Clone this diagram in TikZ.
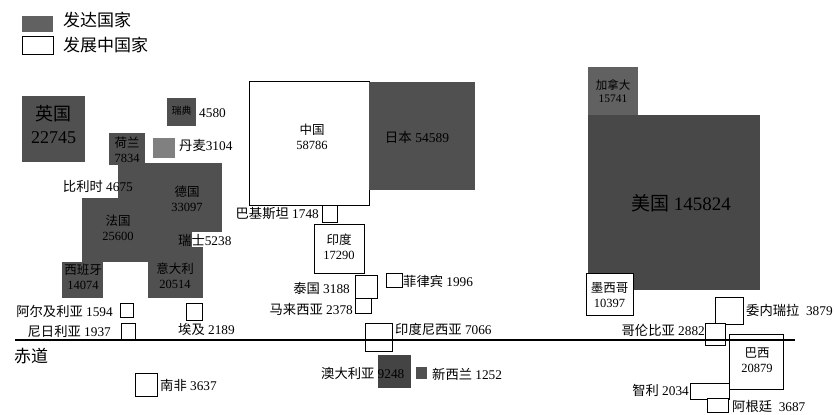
\documentclass[tikz,border=0pt]{standalone}
\usepackage{fontspec}
\setmainfont{Liberation Serif}
\newfontfamily\cjk{Noto Sans CJK SC}
\newcommand\zh[1]{{\cjk #1}}
\usetikzlibrary{positioning}
\definecolor{devgray}{HTML}{505050}
\definecolor{devlight}{HTML}{808080}
\begin{document}
\begin{tikzpicture}[x=1pt,y=-1pt,
  dev/.style={fill=devgray, draw=none, inner sep=0pt, outer sep=0pt, align=center},
  dvg/.style={fill=white, draw=black, line width=0.9pt, inner sep=0pt, outer sep=0pt, align=center},
  sz/.style 2 args={minimum width=#1pt, minimum height=#2pt},
  lbl/.style={inner sep=0pt, font=\fontsize{13.3}{15}\selectfont},
  intxt/.style={inner sep=0pt, align=center, font=\fontsize{12.5}{15}\selectfont},
  legtxt/.style={inner sep=0pt, anchor=west, font=\fontsize{17}{17}\selectfont\cjk},
  eqline/.style={line width=2.4pt, black}
]
\useasboundingbox (0,0) rectangle (836,415);

% legend
\node[dev, fill=devgray!90!white, sz={31}{16}] (legD) at (37.5,24) {};
\node[dvg, sz={31}{18}] (legW) at (37.5,45.5) {};
\node[legtxt] (legDt) at (63,20) {发达国家};
\node[legtxt] (legWt) at (63,45) {发展中国家};

% Europe
\node[dev, sz={63}{66}] (uk) at (53.5,129) {};
\node[intxt, font=\fontsize{18}{23}\selectfont] (ukT) at (53.5,125) {\zh{英国}\\22745};
\node[dev, sz={29}{28}] (se) at (181.5,112) {};
\node[intxt, font=\fontsize{10}{10}\selectfont] (seT) at (181.5,111) {\zh{瑞典}};
\node[lbl, anchor=west] (seL) at (199,113) {4580};
\node[dev, sz={36}{32}] (nl) at (127,149) {};
\node[dev, fill=devlight, sz={22}{20}] (dk) at (164,148) {};
\node[lbl, anchor=west] (dkL) at (179,145) {\zh{丹麦}3104};
\node[dev, sz={104}{69}] (de) at (170,197.5) {};
\node[dev, sz={73}{64}] (fr) at (118.5,230) {};
\node[dev, sz={42}{16}] (ch) at (171,240) {};
\node[dev, sz={55}{51}] (it) at (175.5,272.5) {};
\node[dev, sz={41}{36}] (es) at (82.5,280) {};
\node[intxt] (nlT) at (127,150) {\zh{荷兰}\\7834};
\node[intxt] (deT) at (187,199) {\zh{德国}\\33097};
\node[intxt] (frT) at (118,228) {\zh{法国}\\25600};
\node[intxt] (itT) at (175,276) {\zh{意大利}\\20514};
\node[intxt] (esT) at (83,277) {\zh{西班牙}\\14074};
\node[lbl, anchor=east] (beL) at (133,186) {\zh{比利时} 4675};
\node[lbl, anchor=west] (chL) at (178,240) {\zh{瑞士}5238};

% Africa
\node[dvg, sz={13}{14}] (dz) at (126.5,310) {};
\node[lbl, anchor=east] (dzL) at (113,311) {\zh{阿尔及利亚} 1594};
\node[dvg, sz={14}{16}] (ng) at (128,331) {};
\node[lbl, anchor=east] (ngL) at (111,331) {\zh{尼日利亚} 1937};
\node[dvg, sz={16}{17}] (eg) at (194,311.5) {};
\node[lbl, anchor=west] (egL) at (178,329) {\zh{埃及} 2189};
\node[dvg, sz={22}{23}] (za) at (146,384.5) {};
\node[lbl, anchor=west] (zaL) at (160,385) {\zh{南非} 3637};

% Asia
\node[dvg, sz={120}{124}] (cn) at (309,143) {};
\node[intxt] (cnT) at (312,137) {\zh{中国}\\58786};
\node[dev, sz={106}{108}] (jp) at (422,136) {};
\node[intxt, font=\fontsize{13.5}{15}\selectfont] (jpT) at (417,137) {\zh{日本} 54589};
\node[dvg, sz={15}{17}] (pk) at (329.5,213.5) {};
\node[lbl, anchor=east] (pkL) at (319,214) {\zh{巴基斯坦} 1748};
\node[dvg, sz={50}{49}] (in) at (339,248.5) {};
\node[intxt] (inT) at (339,247) {\zh{印度}\\17290};
\node[dvg, sz={22}{23}] (th) at (366,286.5) {};
\node[lbl, anchor=east] (thL) at (350,288) {\zh{泰国} 3188};
\node[dvg, sz={16}{14}] (ph) at (394,280) {};
\node[lbl, anchor=west] (phL) at (403,281) {\zh{菲律宾} 1996};
\node[dvg, sz={16}{15}] (my) at (363,305.5) {};
\node[lbl, anchor=east] (myL) at (353,309) {\zh{马来西亚} 2378};
\node[dvg, sz={27}{28}] (id) at (378.5,337) {};
\node[lbl, anchor=west] (idL) at (395,329) {\zh{印度尼西亚} 7066};
\node[dev, fill=devgray!85!black, sz={33}{33}] (au) at (394.5,371.5) {};
\node[lbl, anchor=west] (auL) at (321,373) {\zh{澳大利亚} 9248};
\node[dev, sz={11}{12}] (nz) at (421.5,373) {};
\node[lbl, anchor=west] (nzL) at (432,374) {\zh{新西兰} 1252};

% Americas
\node[dev, fill=devgray!90!white, sz={50}{48}] (ca) at (613,91) {};
\node[intxt, font=\fontsize{11.5}{13}\selectfont] (caT) at (613,91) {\zh{加拿大}\\15741};
\node[dev, fill=devgray!90!black, sz={172}{175}] (us) at (674,202.5) {};
\node[intxt, font=\fontsize{19}{20}\selectfont] (usT) at (681,203) {\zh{美国} 145824};
\node[dvg, sz={47}{42}] (mx) at (609.5,294) {};
\node[intxt] (mxT) at (609.5,295) {\zh{墨西哥}\\10397};
\node[dvg, sz={28}{27}] (ve) at (729,310.5) {};
\node[lbl, anchor=west] (veL) at (746,310) {\zh{委内瑞拉}\ \ 3879};
\node[dvg, sz={20}{22}] (co) at (715,334) {};
\node[lbl, anchor=east] (coL) at (705,330) {\zh{哥伦比亚} 2882};
\node[dvg, sz={54}{55}] (br) at (756,361.5) {};
\node[intxt] (brT) at (757,360) {\zh{巴西}\\20879};
\node[dvg, sz={39}{16}] (cl) at (709.5,391) {};
\node[lbl, anchor=east] (clL) at (689,390) {\zh{智利} 2034};
\node[dvg, sz={21}{14}] (ar) at (717.5,405) {};
\node[lbl, anchor=west] (arL) at (732,406) {\zh{阿根廷}\ \ 3687};

% equator
\coordinate (eqW) at (15,340);
\coordinate (eqE) at (795,340);
\draw[eqline] (eqW) -- (eqE);
\node[legtxt] (eqT) at (14,356) {赤道};
\end{tikzpicture}
\end{document}
